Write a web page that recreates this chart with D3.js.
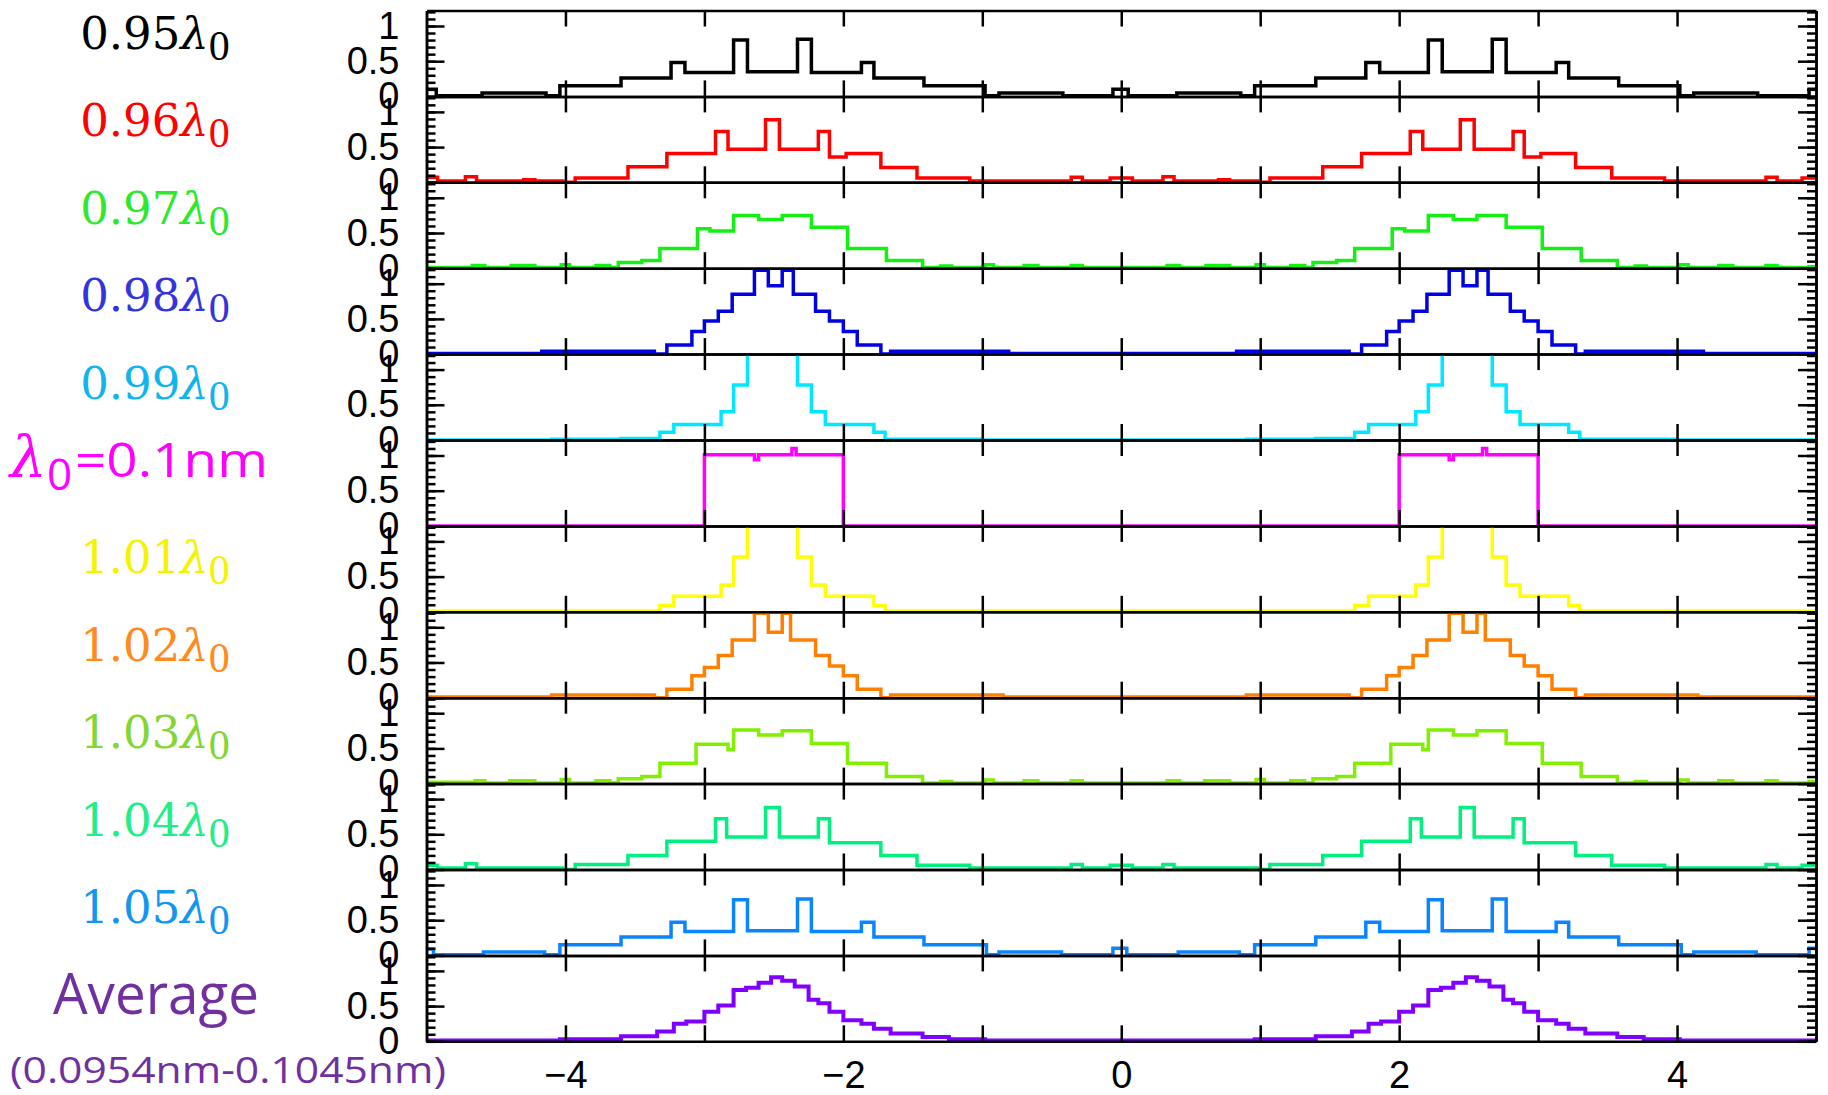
<!DOCTYPE html>
<html>
<head>
<meta charset="utf-8">
<script src="https://cdn.jsdelivr.net/npm/d3@7"></script>
<style>
  body { margin: 0; background: #fff; overflow: hidden; }
</style>
</head>
<body>
<div id="chart"></div>
<script>
// intensity profiles, one step trace per wavelength: [x, intensity] (step-after)
const s095 = [[-5,0.1],[-4.93,0.01],[-4.6,0.05],[-4.14,0.01],[-4.04,0.15],[-3.6,0.26],[-3.24,0.48],[-3.14,0.34],[-2.79,0.8],[-2.69,0.35],[-2.33,0.81],[-2.23,0.34],[-1.87,0.48],[-1.78,0.26],[-1.42,0.15],[-0.98,0.01],[-0.88,0.05],[-0.42,0.01],[-0.06,0.1],[0.05,0.01],[0.4,0.05],[0.86,0.01],[0.96,0.15],[1.4,0.26],[1.76,0.48],[1.86,0.34],[2.21,0.8],[2.31,0.35],[2.67,0.81],[2.77,0.34],[3.13,0.48],[3.22,0.26],[3.58,0.15],[4.02,0.01],[4.12,0.05],[4.58,0.01],[4.95,0.1],[5,0.1]];
const s096 = [[-5,0.07],[-4.92,0.02],[-4.72,0.08],[-4.64,0.02],[-4.3,0.035],[-4.22,0.02],[-4.02,0],[-3.93,0.06],[-3.55,0.22],[-3.27,0.41],[-2.92,0.72],[-2.83,0.47],[-2.56,0.89],[-2.46,0.47],[-2.18,0.72],[-2.1,0.36],[-1.98,0.41],[-1.73,0.21],[-1.47,0.06],[-1.09,0.02],[-0.36,0.07],[-0.28,0.02],[-0.08,0.06],[0.08,0.02],[0.3,0.08],[0.38,0.02],[0.7,0.035],[0.78,0.02],[0.98,0],[1.07,0.06],[1.45,0.22],[1.73,0.41],[2.08,0.72],[2.17,0.47],[2.44,0.89],[2.54,0.47],[2.82,0.72],[2.9,0.36],[3.02,0.41],[3.27,0.21],[3.53,0.06],[3.91,0.02],[4.64,0.07],[4.72,0.02],[4.9,0.06],[5,0.06]];
const s097 = [[-5,0.01],[-4.67,0.04],[-4.58,0.01],[-4.39,0.04],[-4.22,0.01],[-4.03,0.05],[-3.97,0.01],[-3.78,0.04],[-3.68,0.01],[-3.62,0.08],[-3.45,0.11],[-3.32,0.28],[-3.05,0.56],[-2.96,0.53],[-2.79,0.75],[-2.61,0.69],[-2.44,0.75],[-2.23,0.58],[-1.97,0.28],[-1.69,0.11],[-1.43,0.01],[-1.3,0.03],[-1.22,0.01],[-0.98,0.05],[-0.92,0.01],[-0.7,0.04],[-0.6,0.01],[-0.36,0.04],[-0.28,0.01],[0.33,0.04],[0.42,0.01],[0.61,0.04],[0.78,0.01],[0.97,0.05],[1.03,0.01],[1.22,0.04],[1.32,0.01],[1.38,0.08],[1.55,0.11],[1.68,0.28],[1.95,0.56],[2.04,0.53],[2.21,0.75],[2.39,0.69],[2.56,0.75],[2.77,0.58],[3.03,0.28],[3.31,0.11],[3.57,0.01],[3.7,0.03],[3.78,0.01],[4.02,0.05],[4.08,0.01],[4.3,0.04],[4.4,0.01],[4.64,0.04],[4.72,0.01],[4.95,0.02],[5,0.02]];
const s098 = [[-5,0.01],[-4.17,0.04],[-3.36,0],[-3.27,0.13],[-3.09,0.32],[-3.0,0.47],[-2.9,0.61],[-2.8,0.85],[-2.64,1.19],[-2.54,0.97],[-2.44,1.19],[-2.36,0.85],[-2.2,0.61],[-2.1,0.47],[-2.0,0.32],[-1.9,0.13],[-1.73,0],[-1.66,0.04],[-0.81,0.01],[0.83,0.04],[1.64,0],[1.73,0.13],[1.91,0.32],[2.0,0.47],[2.1,0.61],[2.2,0.85],[2.36,1.19],[2.46,0.97],[2.56,1.19],[2.64,0.85],[2.8,0.61],[2.9,0.47],[3.0,0.32],[3.1,0.13],[3.27,0],[3.34,0.04],[4.19,0.01],[5,0.01]];
const s099 = [[-5,0],[-4.1,0.01],[-3.6,0.02],[-3.32,0.11],[-3.22,0.22],[-2.88,0.4],[-2.79,0.78],[-2.69,1.6],[-2.33,0.78],[-2.23,0.4],[-2.13,0.22],[-1.78,0.11],[-1.7,0.01],[-1.0,0],[0.9,0.01],[1.4,0.02],[1.68,0.11],[1.78,0.22],[2.12,0.4],[2.21,0.78],[2.31,1.6],[2.67,0.78],[2.77,0.4],[2.87,0.22],[3.22,0.11],[3.3,0.01],[4.0,0],[5,0]];
const s100 = [[-5,0],[-3.0,1.01],[-2.64,0.94],[-2.61,1.01],[-2.37,1.1],[-2.34,1.01],[-2.0,0],[2.0,1.01],[2.36,0.94],[2.39,1.01],[2.6,1.1],[2.63,1.01],[3.0,0],[5,0]];
const s101 = [[-5,0.01],[-3.32,0.09],[-3.22,0.22],[-2.88,0.38],[-2.79,0.78],[-2.69,1.6],[-2.33,0.78],[-2.23,0.38],[-2.13,0.22],[-1.78,0.09],[-1.7,0.01],[1.68,0.09],[1.78,0.22],[2.12,0.38],[2.21,0.78],[2.31,1.6],[2.67,0.78],[2.77,0.38],[2.87,0.22],[3.22,0.09],[3.3,0.01],[5,0.01]];
const s102 = [[-5,0.01],[-4.1,0.04],[-3.36,0],[-3.27,0.12],[-3.09,0.31],[-3.0,0.43],[-2.9,0.6],[-2.8,0.82],[-2.64,1.2],[-2.54,0.93],[-2.44,1.2],[-2.38,0.82],[-2.2,0.6],[-2.1,0.45],[-2.0,0.31],[-1.9,0.12],[-1.73,0],[-1.66,0.04],[-0.85,0.01],[0.9,0.04],[1.64,0],[1.73,0.12],[1.91,0.31],[2.0,0.43],[2.1,0.6],[2.2,0.82],[2.36,1.2],[2.46,0.93],[2.56,1.2],[2.62,0.82],[2.8,0.6],[2.9,0.45],[3.0,0.31],[3.1,0.12],[3.27,0],[3.34,0.04],[4.15,0.01],[5,0.01]];
const s103 = [[-5,0.02],[-4.65,0.04],[-4.58,0.01],[-4.4,0.04],[-4.22,0.01],[-4.03,0.06],[-3.97,0.01],[-3.78,0.04],[-3.68,0.01],[-3.62,0.07],[-3.45,0.1],[-3.32,0.29],[-3.06,0.56],[-2.83,0.48],[-2.79,0.76],[-2.61,0.69],[-2.44,0.75],[-2.23,0.57],[-1.97,0.29],[-1.69,0.1],[-1.43,0.01],[-1.3,0.03],[-1.22,0.01],[-0.98,0.05],[-0.92,0.01],[-0.7,0.04],[-0.6,0.01],[-0.36,0.04],[-0.28,0.01],[0.33,0.04],[0.42,0.01],[0.6,0.04],[0.78,0.01],[0.97,0.06],[1.03,0.01],[1.22,0.04],[1.32,0.01],[1.38,0.07],[1.55,0.1],[1.68,0.29],[1.94,0.56],[2.17,0.48],[2.21,0.76],[2.39,0.69],[2.56,0.75],[2.77,0.57],[3.03,0.29],[3.31,0.1],[3.57,0.01],[3.7,0.03],[3.78,0.01],[4.02,0.05],[4.08,0.01],[4.3,0.04],[4.4,0.01],[4.64,0.04],[4.72,0.01],[4.95,0.03],[5,0.03]];
const s104 = [[-5,0.06],[-4.92,0.02],[-4.72,0.08],[-4.64,0.02],[-4.02,0],[-3.93,0.07],[-3.55,0.2],[-3.27,0.4],[-2.92,0.72],[-2.84,0.46],[-2.56,0.88],[-2.46,0.46],[-2.18,0.72],[-2.1,0.38],[-1.73,0.2],[-1.47,0.06],[-1.09,0.02],[-0.36,0.07],[-0.28,0.02],[-0.08,0.06],[0.08,0.02],[0.3,0.07],[0.38,0.02],[0.98,0],[1.07,0.07],[1.45,0.2],[1.73,0.4],[2.08,0.72],[2.16,0.46],[2.44,0.88],[2.54,0.46],[2.82,0.72],[2.9,0.38],[3.27,0.2],[3.53,0.06],[3.91,0.02],[4.64,0.07],[4.72,0.02],[4.9,0.06],[5,0.06]];
const s105 = [[-5,0.09],[-4.95,0.01],[-4.59,0.05],[-4.15,0.01],[-4.04,0.15],[-3.6,0.26],[-3.24,0.47],[-3.14,0.34],[-2.79,0.79],[-2.69,0.35],[-2.33,0.8],[-2.23,0.34],[-1.87,0.47],[-1.78,0.26],[-1.42,0.15],[-0.97,0.01],[-0.88,0.05],[-0.43,0.01],[-0.06,0.1],[0.04,0.01],[0.41,0.05],[0.85,0.01],[0.96,0.15],[1.4,0.26],[1.76,0.47],[1.86,0.34],[2.21,0.79],[2.31,0.35],[2.67,0.8],[2.77,0.34],[3.13,0.47],[3.22,0.26],[3.58,0.15],[4.03,0.01],[4.12,0.05],[4.57,0.01],[4.95,0.1],[5,0.1]];
const sAvg = [[-5,0.01],[-4.04,0.03],[-3.6,0.07],[-3.34,0.14],[-3.22,0.25],[-3.13,0.28],[-3.0,0.42],[-2.9,0.51],[-2.79,0.73],[-2.7,0.76],[-2.61,0.83],[-2.52,0.91],[-2.44,0.86],[-2.35,0.78],[-2.25,0.59],[-2.18,0.54],[-2.1,0.42],[-2.0,0.3],[-1.87,0.25],[-1.78,0.18],[-1.66,0.11],[-1.43,0.06],[-1.24,0.03],[-0.98,0.01],[0.96,0.03],[1.4,0.07],[1.66,0.14],[1.78,0.25],[1.87,0.28],[2.0,0.42],[2.1,0.51],[2.21,0.73],[2.3,0.76],[2.39,0.83],[2.48,0.91],[2.56,0.86],[2.65,0.78],[2.75,0.59],[2.82,0.54],[2.9,0.42],[3.0,0.3],[3.13,0.25],[3.22,0.18],[3.34,0.11],[3.57,0.06],[3.76,0.03],[4.02,0.01],[5,0.01]];

const seriesKeys = ["0.95", "0.96", "0.97", "0.98", "0.99", "1.00", "1.01", "1.02", "1.03", "1.04", "1.05", "avg"];
const seriesData = [s095, s096, s097, s098, s099, s100, s101, s102, s103, s104, s105, sAvg];
const xTickLabels = [-4, -2, 0, 2, 4];
const yTickLabels = [0, 0.5, 1];

const lineColors = ["#000000", "#ff0000", "#14f014", "#0000e0", "#00e8ff", "#ff00ff", "#ffff00", "#ff8000", "#80f000", "#00f080", "#0a84ff", "#8000ff"];
const labelColors = ["#000000", "#ff0000", "#2ee82e", "#3434dc", "#12b4ec", "#ff00ff", "#f4f400", "#ff8a1e", "#84d634", "#22ee88", "#1296ee", "#7030a0"];

const width = 1828, height = 1095;
const svg = d3.select("#chart").append("svg")
  .attr("width", width)
  .attr("height", height);

const x = d3.scaleLinear().domain([-5, 5]).range([426.5, 1816]);
const band = d3.scaleBand().domain(seriesKeys).range([10.5, 1041.3]);
const ph = band.bandwidth();
const y = d3.scaleLinear().domain([0, 1.22]).range([ph, 0]);

const line = d3.line()
  .x(d => x(d[0]))
  .y(d => y(d[1]))
  .curve(d3.curveStepAfter);

svg.append("defs").append("clipPath").attr("id", "panel-clip")
  .append("rect")
  .attr("x", x.range()[0])
  .attr("y", 0)
  .attr("width", x.range()[1] - x.range()[0])
  .attr("height", ph);

function styleAxis(g) {
  g.selectAll("path, line").attr("stroke", "#000").attr("stroke-width", 2.5);
  g.selectAll("text")
    .attr("font-family", "'Liberation Sans', Arial, sans-serif")
    .attr("font-size", 38)
    .attr("fill", "#000");
}

const minorY = d3.range(0, 13).map(i => i / 10);
const xInts = d3.range(-4, 5);
const fmt = d => String(d);

seriesKeys.forEach((key, i) => {
  const g = svg.append("g").attr("transform", `translate(0,${band(key)})`);

  g.append("g").attr("clip-path", "url(#panel-clip)")
    .append("path")
    .datum(seriesData[i])
    .attr("d", line)
    .attr("fill", "none")
    .attr("stroke", lineColors[i])
    .attr("stroke-width", i === 11 ? 4 : 3.5)
    .attr("stroke-linejoin", "miter");

  // left axis: minor ticks, then major ticks with labels
  g.append("g").attr("transform", `translate(${x.range()[0]},0)`)
    .call(d3.axisLeft(y).tickValues(minorY).tickSize(-9).tickSizeOuter(0).tickFormat(""))
    .call(styleAxis);
  g.append("g").attr("transform", `translate(${x.range()[0]},0)`)
    .call(d3.axisLeft(y).tickValues(yTickLabels).tickSize(-18).tickSizeOuter(0).tickPadding(27).tickFormat(fmt))
    .call(styleAxis);

  // right axis
  g.append("g").attr("transform", `translate(${x.range()[1]},0)`)
    .call(d3.axisRight(y).tickValues(minorY).tickSize(-9).tickSizeOuter(0).tickFormat(""))
    .call(styleAxis);
  g.append("g").attr("transform", `translate(${x.range()[1]},0)`)
    .call(d3.axisRight(y).tickValues(yTickLabels).tickSize(-18).tickSizeOuter(0).tickFormat(""))
    .call(styleAxis);

  // top and bottom, inward ticks
  g.append("g")
    .call(d3.axisTop(x).tickValues(xInts).tickSize(-16).tickSizeOuter(0).tickFormat(""))
    .call(styleAxis);
  g.append("g").attr("transform", `translate(0,${ph})`)
    .call(d3.axisBottom(x).tickValues(xInts).tickSize(-16).tickSizeOuter(0).tickFormat(""))
    .call(styleAxis);

  if (i === seriesKeys.length - 1) {
    g.append("g").attr("transform", `translate(0,${ph})`)
      .call(d3.axisBottom(x).tickValues(xTickLabels).tickSize(0).tickPadding(20))
      .call(styleAxis)
      .call(a => a.select(".domain").remove());
  }
});

// row labels on the left
const labelY = d3.scaleLinear().domain([0, 10]).range([49, 923]);
const labels = svg.append("g");

seriesKeys.forEach((key, i) => {
  if (key === "1.00" || key === "avg") return;
  const t = labels.append("text")
    .attr("x", 155)
    .attr("y", labelY(i))
    .attr("text-anchor", "middle")
    .attr("font-family", "'DejaVu Serif', serif")
    .attr("font-size", 45)
    .attr("fill", labelColors[i])
    .text(key);
  t.append("tspan").attr("font-style", "italic").text("λ");
  t.append("tspan")
    .attr("font-family", "'Liberation Serif', serif")
    .attr("font-size", 42)
    .attr("dy", 11)
    .text("0");
});

// λ0 = 0.1nm
const lamY = labelY(5) - 9;
labels.append("text")
  .attr("x", 10).attr("y", lamY)
  .attr("font-family", "'DejaVu Serif', serif")
  .attr("font-style", "italic")
  .attr("font-size", 58)
  .attr("fill", labelColors[5])
  .text("λ");
labels.append("text")
  .attr("x", 47).attr("y", lamY + 13)
  .attr("font-family", "'Open Sans', sans-serif")
  .attr("font-size", 44)
  .attr("fill", labelColors[5])
  .text("0");
labels.append("text")
  .attr("x", 75).attr("y", lamY)
  .attr("font-family", "'Open Sans', sans-serif")
  .attr("font-size", 47)
  .attr("textLength", 193)
  .attr("lengthAdjust", "spacingAndGlyphs")
  .attr("fill", labelColors[5])
  .text("=0.1nm");

// Average
labels.append("text")
  .attr("x", 156).attr("y", 1014)
  .attr("text-anchor", "middle")
  .attr("font-family", "'Open Sans', sans-serif")
  .attr("font-size", 57)
  .attr("textLength", 206)
  .attr("lengthAdjust", "spacingAndGlyphs")
  .attr("fill", labelColors[11])
  .text("Average");
labels.append("text")
  .attr("x", 228).attr("y", 1083)
  .attr("text-anchor", "middle")
  .attr("font-family", "'Open Sans', sans-serif")
  .attr("font-size", 37)
  .attr("textLength", 436)
  .attr("lengthAdjust", "spacingAndGlyphs")
  .attr("fill", labelColors[11])
  .text("(0.0954nm-0.1045nm)");
</script>
</body>
</html>
